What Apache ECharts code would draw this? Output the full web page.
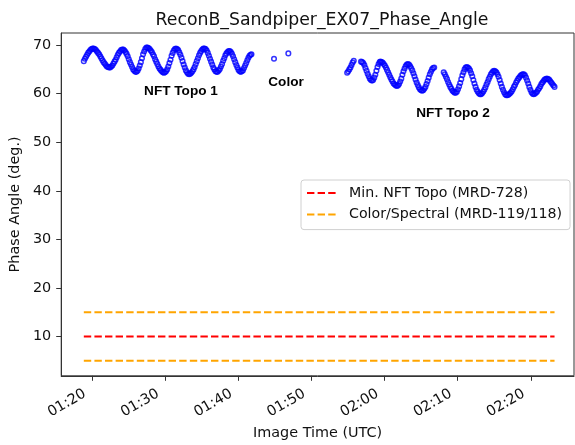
<!DOCTYPE html>
<html>
<head>
<meta charset="utf-8">
<script src="https://cdn.jsdelivr.net/npm/echarts@6/dist/echarts.min.js"></script>
<style>
html,body{margin:0;padding:0;background:#fff;}
#chart{width:575px;height:445px;}
</style>
</head>
<body>
<div id="chart"></div>
<script>
// [time in minutes after 00:00 UTC (80 = 01:20), phase angle in degrees]
const topo1 = [[78.9,66.7],[79.05,67.2],[79.2,67.6],[79.35,68.0],[79.5,68.4],[79.65,68.7],[79.8,69.0],[79.95,69.2],[80.1,69.3],
[80.25,69.3],[80.4,69.2],[80.55,69.0],[80.7,68.7],[80.85,68.4],[81.0,68.1],[81.15,67.7],[81.3,67.3],[81.45,66.9],[81.6,66.5],[81.75,66.2],[81.9,65.9],[82.05,65.6],[82.2,65.5],[82.35,65.4],
[82.5,65.4],[82.65,65.6],[82.8,65.8],[82.95,66.2],[83.1,66.6],[83.25,67.0],[83.4,67.5],[83.55,68.0],[83.7,68.4],[83.85,68.7],[84.0,69.0],[84.15,69.1],
[84.3,69.1],[84.45,68.9],[84.6,68.6],[84.75,68.2],[84.9,67.7],[85.05,67.1],[85.2,66.5],[85.35,66.0],[85.5,65.5],[85.65,65.0],[85.8,64.7],[85.95,64.5],
[86.1,64.5],[86.25,64.7],[86.4,65.2],[86.55,65.8],[86.7,66.5],[86.85,67.3],[87.0,68.1],[87.15,68.7],[87.3,69.2],[87.45,69.5],
[87.6,69.5],[87.75,69.4],[87.9,69.2],[88.05,68.9],[88.2,68.6],[88.35,68.1],[88.5,67.7],[88.65,67.1],[88.8,66.6],[88.95,66.1],[89.1,65.6],[89.25,65.2],[89.4,64.9],[89.55,64.6],[89.7,64.4],[89.85,64.3],
[90.0,64.4],[90.15,64.6],[90.3,65.0],[90.45,65.6],[90.6,66.3],[90.75,67.0],[90.9,67.8],[91.05,68.4],[91.2,68.9],[91.35,69.2],
[91.5,69.3],[91.65,69.2],[91.8,69.0],[91.95,68.5],[92.1,68.0],[92.25,67.4],[92.4,66.7],[92.55,66.0],[92.7,65.4],[92.85,64.8],[93.0,64.4],[93.15,64.1],[93.3,64.0],
[93.45,64.1],[93.6,64.3],[93.75,64.6],[93.9,65.0],[94.05,65.5],[94.2,66.1],[94.35,66.7],[94.5,67.3],[94.65,67.9],[94.8,68.4],[94.95,68.8],[95.1,69.1],[95.25,69.3],
[95.4,69.3],[95.55,69.2],[95.7,68.9],[95.85,68.4],[96.0,67.8],[96.15,67.2],[96.3,66.6],[96.45,66.0],[96.6,65.4],[96.75,65.0],[96.9,64.6],[97.05,64.5],
[97.2,64.5],[97.35,64.8],[97.5,65.1],[97.65,65.6],[97.8,66.1],[97.95,66.8],[98.1,67.3],[98.25,67.9],[98.4,68.3],[98.55,68.6],[98.7,68.8],
[98.85,68.8],[99.0,68.6],[99.15,68.2],[99.3,67.7],[99.45,67.1],[99.6,66.5],[99.75,65.9],[99.9,65.4],[100.05,64.9],[100.2,64.6],[100.35,64.5],
[100.5,64.6],[100.65,64.8],[100.8,65.3],[100.95,65.8],[101.1,66.3],[101.25,66.9],[101.4,67.4],[101.55,67.8],[101.7,68.0],[101.82,68.1]];

const colorImages = [[104.9,67.2],[106.86,68.3]];

const topo2 = [[114.9,64.3],[115.05,64.6],[115.2,65.0],[115.35,65.4],[115.5,65.9],[115.65,66.4],[115.8,66.8],
[116.8,66.6],[116.95,66.5],[117.1,66.3],[117.25,65.9],[117.4,65.3],[117.55,64.7],[117.7,64.1],[117.85,63.6],[118.0,63.1],[118.15,62.8],[118.3,62.7],
[118.45,62.8],[118.6,63.3],[118.75,63.9],[118.9,64.7],[119.05,65.5],[119.2,66.1],[119.35,66.5],[119.45,66.6],
[119.6,66.5],[119.75,66.4],[119.9,66.1],[120.05,65.8],[120.2,65.4],[120.35,64.9],[120.5,64.4],[120.65,63.9],[120.8,63.4],[120.95,62.9],[121.1,62.5],[121.25,62.1],[121.4,61.9],[121.55,61.7],[121.7,61.6],
[121.85,61.7],[122.0,62.0],[122.15,62.5],[122.3,63.1],[122.45,63.9],[122.6,64.6],[122.75,65.2],[122.9,65.7],[123.05,66.0],[123.2,66.1],
[123.35,66.0],[123.5,65.7],[123.65,65.3],[123.8,64.8],[123.95,64.2],[124.1,63.6],[124.25,62.9],[124.4,62.3],[124.55,61.8],[124.7,61.3],[124.85,60.9],[125.0,60.7],[125.15,60.6],
[125.3,60.7],[125.45,61.0],[125.6,61.4],[125.75,62.0],[125.9,62.6],[126.05,63.3],[126.2,64.0],[126.35,64.5],[126.5,65.0],[126.65,65.3],[126.8,65.4],
[128.1,64.4],[128.25,64.0],[128.4,63.5],[128.55,63.0],[128.7,62.4],[128.85,61.9],[129.0,61.4],[129.15,61.0],[129.3,60.6],[129.45,60.4],[129.6,60.2],
[129.75,60.2],[129.9,60.4],[130.05,60.9],[130.2,61.5],[130.35,62.2],[130.5,63.0],[130.65,63.8],[130.8,64.4],[130.95,65.0],[131.1,65.4],[131.25,65.5],
[131.4,65.4],[131.55,65.2],[131.7,64.8],[131.85,64.2],[132.0,63.6],[132.15,62.8],[132.3,62.1],[132.45,61.4],[132.6,60.8],[132.75,60.4],[132.9,60.1],[133.05,59.9],
[133.2,59.9],[133.35,60.1],[133.5,60.4],[133.65,60.8],[133.8,61.3],[133.95,61.9],[134.1,62.4],[134.25,63.0],[134.4,63.5],[134.55,64.0],[134.7,64.3],[134.85,64.6],[135.0,64.7],
[135.15,64.6],[135.3,64.4],[135.45,64.0],[135.6,63.5],[135.75,62.8],[135.9,62.1],[136.05,61.4],[136.2,60.8],[136.35,60.3],[136.5,59.9],[136.65,59.7],
[136.8,59.7],[136.95,59.8],[137.1,60.0],[137.25,60.2],[137.4,60.5],[137.55,60.9],[137.7,61.4],[137.85,61.8],[138.0,62.3],[138.15,62.7],[138.3,63.1],[138.45,63.4],[138.6,63.7],[138.75,63.9],[138.9,64.0],
[139.05,64.0],[139.2,63.8],[139.35,63.3],[139.5,62.7],[139.65,62.1],[139.8,61.4],[139.95,60.8],[140.1,60.3],[140.25,60.0],[140.4,59.9],
[140.55,60.0],[140.7,60.2],[140.85,60.4],[141.0,60.8],[141.15,61.1],[141.3,61.5],[141.45,62.0],[141.6,62.3],[141.75,62.6],[141.9,62.9],[142.05,63.0],[142.2,63.1],
[142.35,63.0],[142.5,62.9],[142.65,62.6],[142.8,62.3],[142.95,62.0],[143.1,61.7],[143.25,61.4]];

const minNftTopo = [10];          // red dashed requirement line(s)
const colorSpectral = [15, 5];    // orange dashed requirement lines

const xTickValues = [80,90,100,110,120,130,140];
const xTickLabels = ['01:20','01:30','01:40','01:50','02:00','02:10','02:20'];
const yTickValues = [10,20,30,40,50,60,70];

const annotationText = ['NFT Topo 1','Color','NFT Topo 2'];
const annotationTime = [92.18,106.54,129.37];
const annotationPhase = [60.54,62.39,55.87];

const scatterData = topo1.concat(colorImages, topo2);
const allTimes = scatterData.map(p => p[0]);
const tStart = Math.min.apply(null, allTimes);
const tEnd = Math.max.apply(null, allTimes);

const FONT = 'DejaVu Sans';
const TXT = '#111';

const hline = (name, value, color) => ({
  name: name,
  type: 'line',
  data: [[tStart, value], [tEnd, value]],
  showSymbol: false,
  symbol: 'none',
  silent: true,
  color: color,
  lineStyle: { color: color, width: 2, type: [7.4, 3.2] },
  z: 2
});

const series = [
  {
    type: 'scatter',
    data: scatterData,
    symbol: 'circle',
    symbolSize: 4.6,
    itemStyle: { color: 'rgba(255,255,255,0)', borderColor: '#0000ff', borderWidth: 1.5 },
    silent: true,
    z: 3
  }
];
minNftTopo.forEach(v => series.push(hline('Min. NFT Topo (MRD-728)', v, '#ff0000')));
colorSpectral.forEach(v => series.push(hline('Color/Spectral (MRD-119/118)', v, '#ffa500')));
series.push({
  type: 'scatter',
  data: annotationText.map((t, i) => ({ name: t, value: [annotationTime[i], annotationPhase[i]] })),
  symbolSize: 0,
  silent: true,
  itemStyle: { color: '#000' },
  label: {
    show: true,
    position: 'inside',
    formatter: p => p.name,
    fontFamily: 'Liberation Sans',
    fontWeight: 'bold',
    fontSize: 13.6,
    color: '#000',
    opacity: 1
  },
  z: 4
});

const chart = echarts.init(document.getElementById('chart'), null, { renderer: 'canvas' });
chart.setOption({
  animation: false,
  backgroundColor: '#fff',
  title: {
    text: 'ReconB_Sandpiper_EX07_Phase_Angle',
    left: 317, textAlign: 'center',
    top: 7,
    textStyle: { fontFamily: FONT, fontSize: 17.3, fontWeight: 'normal', color: TXT }
  },
  grid: { left: 60, right: 1, top: 33, bottom: 69, show: true, borderColor: '#333', borderWidth: 1, backgroundColor: 'transparent' },
  legend: {
    orient: 'vertical',
    left: 301, top: 180,
    width: 270,
    data: ['Min. NFT Topo (MRD-728)', 'Color/Spectral (MRD-119/118)'],
    itemWidth: 29, itemHeight: 14, itemGap: 7.6,
    padding: [6, 8, 8, 5],
    backgroundColor: '#fff',
    borderColor: '#d0d0d0', borderWidth: 1, borderRadius: 3,
    selectedMode: false,
    itemStyle: { opacity: 0 },
    textStyle: { fontFamily: FONT, fontSize: 14.2, color: TXT, padding: [0, 0, 0, 8] }
  },
  xAxis: {
    type: 'value',
    min: 75.81, max: 145.91,
    name: 'Image Time (UTC)',
    nameLocation: 'middle',
    nameGap: 46,
    nameTextStyle: { fontFamily: FONT, fontSize: 14.4, color: TXT },
    splitLine: { show: false },
    axisLine: { show: true, onZero: false, lineStyle: { color: '#333', width: 1 } },
    axisTick: { show: true, length: 5, lineStyle: { color: '#333', width: 1 }, customValues: xTickValues },
    axisLabel: {
      customValues: xTickValues,
      rotate: 30,
      margin: 13,
      padding: [0, 8, 0, 0],
      fontFamily: FONT, fontSize: 14.4, color: TXT,
      formatter: v => {
        const i = xTickValues.indexOf(Math.round(v));
        return i >= 0 ? xTickLabels[i] : '';
      }
    }
  },
  yAxis: {
    type: 'value',
    min: 1.9, max: 72.5,
    name: 'Phase Angle (deg.)',
    nameLocation: 'middle',
    nameGap: 33,
    nameTextStyle: { fontFamily: FONT, fontSize: 14.4, color: TXT },
    splitLine: { show: false },
    axisLine: { show: true, onZero: false, lineStyle: { color: '#333', width: 1 } },
    axisTick: { show: true, length: 5, lineStyle: { color: '#333', width: 1 }, customValues: yTickValues },
    axisLabel: { customValues: yTickValues, margin: 10, fontFamily: FONT, fontSize: 14.4, color: TXT }
  },
  series: series
});
</script>
</body>
</html>
